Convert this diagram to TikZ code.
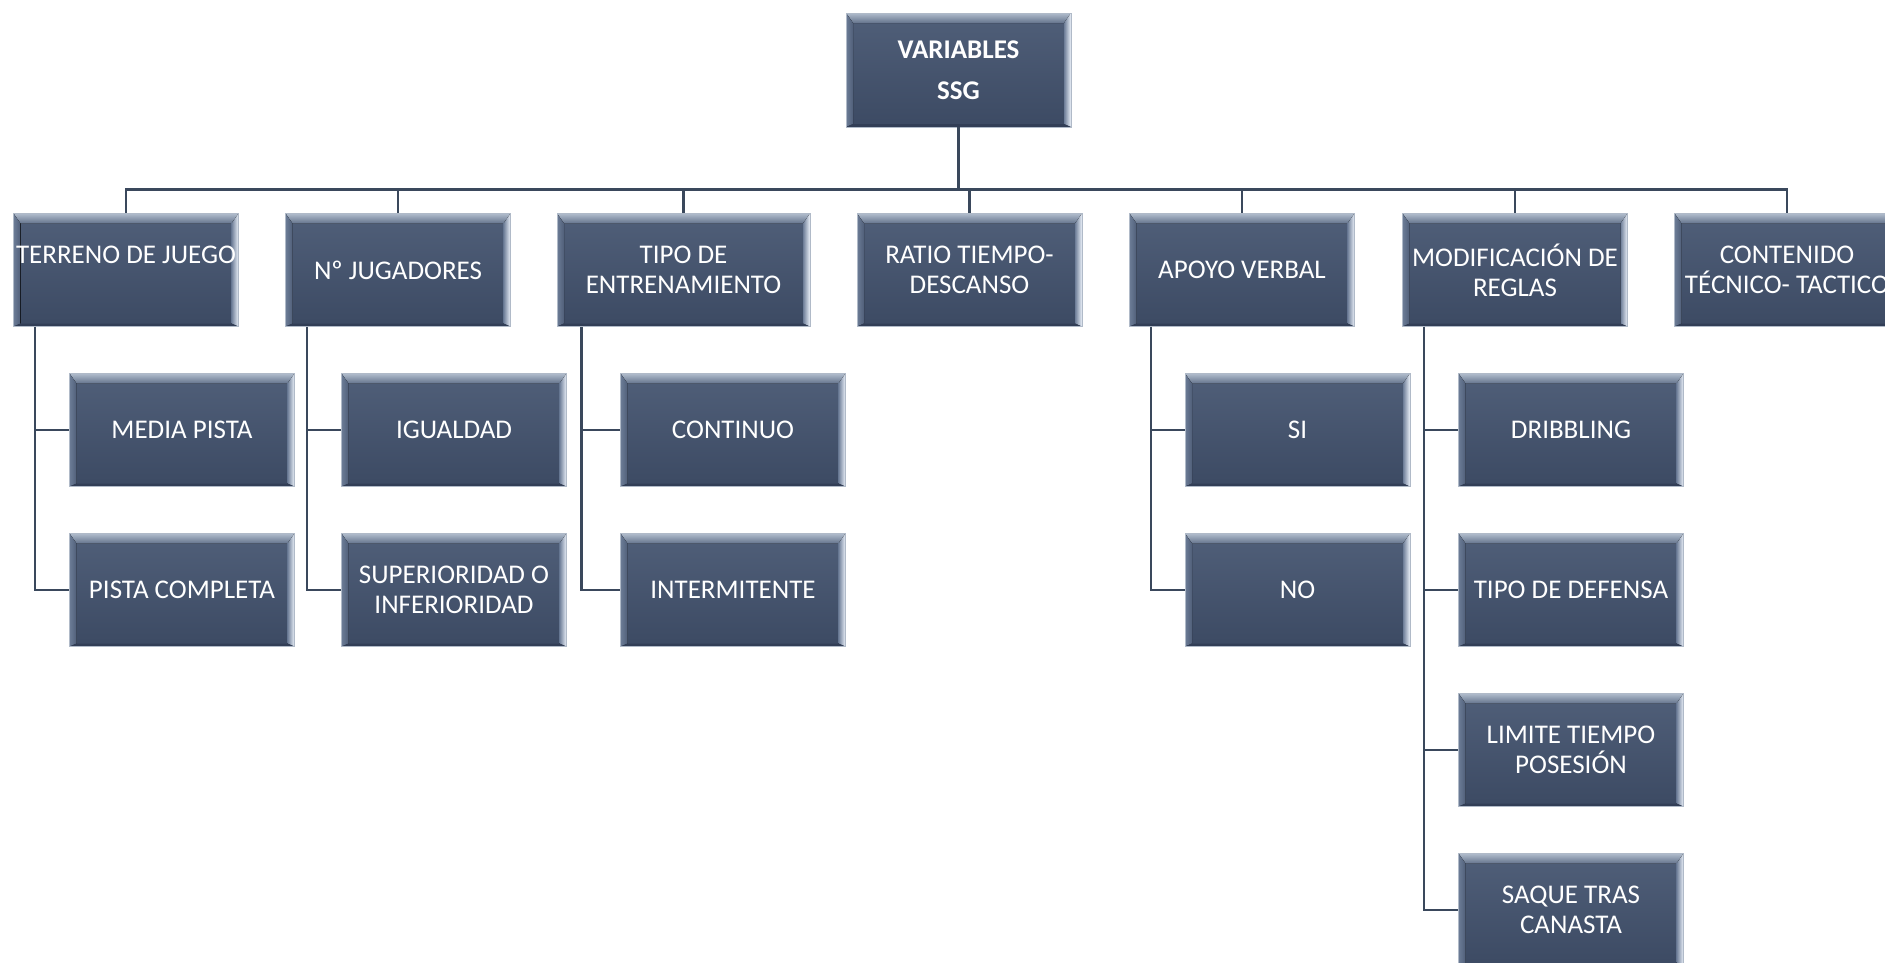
\documentclass[tikz,border=0pt]{standalone}
\usepackage{fontspec}
\setmainfont{Carlito}
\usetikzlibrary{calc}

\definecolor{bvTopA}{RGB}{176,188,204}
\definecolor{bvTopB}{RGB}{100,115,140}
\definecolor{bvBaseT}{RGB}{80,95,121}
\definecolor{bvBaseB}{RGB}{60,74,99}
\definecolor{bvLeft}{RGB}{108,124,150}
\definecolor{bvRightIn}{RGB}{110,126,152}
\definecolor{bvRight}{RGB}{236,242,250}
\definecolor{bvBottom}{RGB}{50,62,86}
\definecolor{bvBorder}{RGB}{176,186,200}
\definecolor{connCol}{RGB}{58,72,92}

\tikzset{
  x=1pt, y=1pt,
  bevelbox/.style={
    rectangle, inner sep=0pt, minimum width=225pt, minimum height=113pt,
    top color=bvBaseT, bottom color=bvBaseB,
    draw=bvBorder, line width=0.8pt,
    text=white, align=center,
    font=\fontsize{27}{30}\selectfont,
    path picture={
      \coordinate (nw) at (path picture bounding box.north west);
      \coordinate (ne) at (path picture bounding box.north east);
      \coordinate (sw) at (path picture bounding box.south west);
      \coordinate (se) at (path picture bounding box.south east);
      \fill[top color=bvTopA, bottom color=bvTopB]
        (nw) -- (ne) -- ($(ne)+(-7,-10)$) -- ($(nw)+(7,-10)$) -- cycle;
      \fill[left color=bvLeft, right color=bvBaseT]
        (nw) -- ($(nw)+(7,-10)$) -- ($(sw)+(7,3)$) -- (sw) -- cycle;
      \fill[left color=bvRightIn, right color=bvRight]
        (ne) -- ($(ne)+(-7,-10)$) -- ($(se)+(-7,3)$) -- (se) -- cycle;
      \fill[bvBottom]
        (sw) -- ($(sw)+(7,3)$) -- ($(se)+(-7,3)$) -- (se) -- cycle;
    }
  },
  conn/.style={draw=connCol, line width=2.6pt, line join=miter}
}

\begin{document}
\begin{tikzpicture}
\useasboundingbox (0,0) rectangle (1885,-962);
\clip (0,0) rectangle (1885,-962);

% root
\node[bevelbox, minimum height=114pt, font=\bfseries\fontsize{27}{30}\selectfont]
  (root) at (958.5,-70) {VARIABLES\\[11pt]SSG};

% first level
\node[bevelbox] (terreno)   at (126,-270)    {TERRENO DE JUEGO\\\mbox{}};
\node[bevelbox] (jugadores) at (398,-270)    {Nº JUGADORES};
\node[bevelbox, minimum width=253pt] (tipo) at (683.5,-270) {TIPO DE\\ENTRENAMIENTO};
\node[bevelbox] (ratio)     at (969.5,-270)  {RATIO TIEMPO-\\DESCANSO};
\node[bevelbox] (apoyo)     at (1242,-270)   {APOYO VERBAL};
\node[bevelbox] (reglas)    at (1515,-270)   {MODIFICACIÓN DE\\REGLAS};
\node[bevelbox] (contenido) at (1787,-270)   {CONTENIDO\\TÉCNICO- TACTICO};

% second level
\node[bevelbox] (media)    at (182,-430)  {MEDIA PISTA};
\node[bevelbox] (completa) at (182,-590)  {PISTA COMPLETA};
\node[bevelbox] (igualdad) at (454,-430)  {IGUALDAD};
\node[bevelbox] (superior) at (454,-590)  {SUPERIORIDAD O\\INFERIORIDAD};
\node[bevelbox] (continuo) at (733,-430)  {CONTINUO};
\node[bevelbox] (intermit) at (733,-590)  {INTERMITENTE};
\node[bevelbox] (si)       at (1297.5,-430) {SI};
\node[bevelbox] (no)       at (1297.5,-590) {NO};
\node[bevelbox] (dribbling) at (1571,-430) {DRIBBLING};
\node[bevelbox] (defensa)   at (1571,-590) {TIPO DE DEFENSA};
\node[bevelbox] (limite)    at (1571,-750) {LIMITE TIEMPO\\POSESIÓN};
\node[bevelbox] (saque)     at (1571,-910) {SAQUE TRAS\\CANASTA};

% connectors from the root
\coordinate (hub) at ($(root.south)+(0,-62)$);
\draw[conn] (root.south) -- (hub);
\foreach \c in {terreno,jugadores,tipo,ratio,apoyo,reglas,contenido}
  \draw[conn] (hub) -| (\c.north);

% connectors to the second level
\foreach \p/\c in {terreno/media, terreno/completa,
                   jugadores/igualdad, jugadores/superior,
                   apoyo/si, apoyo/no,
                   reglas/dribbling, reglas/defensa, reglas/limite, reglas/saque}
  \draw[conn] ([xshift=22pt]\p.south west) |- (\c.west);
\foreach \c in {continuo,intermit}
  \draw[conn] ([xshift=25pt]tipo.south west) |- (\c.west);
\end{tikzpicture}
\end{document}
